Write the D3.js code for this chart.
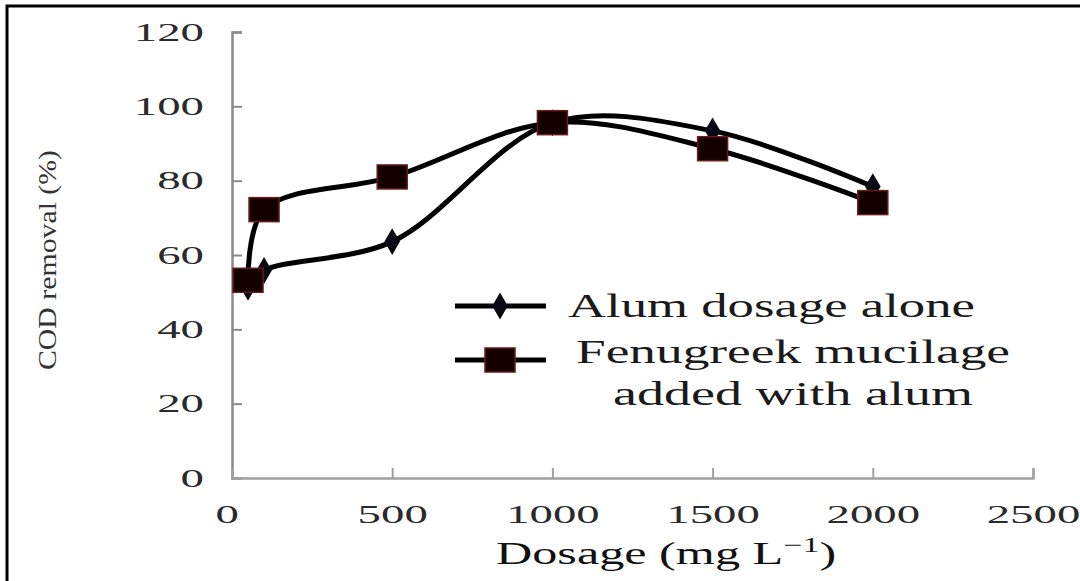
<!DOCTYPE html>
<html>
<head>
<meta charset="utf-8">
<script src="https://cdn.jsdelivr.net/npm/d3@7"></script>
<style>
body { margin: 0; background: #fff; }
svg { display: block; }
</style>
</head>
<body>
<script>
// data
var dosage = [50, 100, 500, 1000, 1500, 2000]
var alumAlone = [51.3, 55.8, 63.6, 95.6, 93.4, 78.4]
var fenugreek = [53.2, 72.2, 81.0, 95.6, 88.6, 74.1]
var xTicks = [0, 500, 1000, 1500, 2000, 2500]
var yTicks = [0, 20, 40, 60, 80, 100, 120]

var W = 1080, H = 581
var stretch = 1.8 // the source picture was widened, text looks wide

var svg = d3.select("body").append("svg")
	.attr("width", W)
	.attr("height", H)

// frame
svg.append("rect")
	.attr("x", 7).attr("y", 6)
	.attr("width", 1200).attr("height", 700)
	.attr("fill", "none")
	.attr("stroke", "#000")
	.attr("stroke-width", 3)

var x = d3.scaleLinear().domain([0, 2500]).range([232, 1033])
var y = d3.scaleLinear().domain([0, 120]).range([478, 32])

var font = "'Liberation Serif', 'DejaVu Serif', serif"

// y axis
var gy = svg.append("g")
	.attr("transform", "translate(" + x(0) + ",0)")
	.call(d3.axisRight(y).tickValues(yTicks).tickSize(10).tickFormat(d3.format("d")))
gy.select(".domain").attr("stroke", "#8a8a8a").attr("stroke-width", 2.5)
gy.selectAll(".tick line").attr("stroke", "#8a8a8a").attr("stroke-width", 2)
gy.selectAll(".tick text")
	.attr("x", -28 / stretch)
	.attr("dy", null)
	.attr("y", 8)
	.attr("transform", "scale(" + stretch + ",1)")
	.attr("text-anchor", "end")
	.attr("font-family", font)
	.attr("font-size", 26)
	.attr("fill", "#2a2a2a")

// x axis
var gx = svg.append("g")
	.attr("transform", "translate(0," + y(0) + ")")
	.call(d3.axisTop(x).tickValues(xTicks).tickSize(10).tickFormat(d3.format("d")))
gx.select(".domain").attr("stroke", "#a0a0a0").attr("stroke-width", 2.5)
gx.selectAll(".tick line").attr("stroke", "#a0a0a0").attr("stroke-width", 2)
gx.selectAll(".tick text")
	.attr("dy", null)
	.attr("y", 45)
	.attr("transform", "scale(" + stretch + ",1)")
	.attr("text-anchor", "middle")
	.attr("font-family", font)
	.attr("font-size", 26)
	.attr("fill", "#2a2a2a")
gx.selectAll(".tick").filter(function(d) { return d === 0 }).select("text").attr("x", -3)

// axis titles
svg.append("text")
	.attr("transform", "translate(56,260) rotate(-90)")
	.attr("text-anchor", "middle")
	.attr("font-family", font)
	.attr("font-size", 25)
	.attr("fill", "#333")
	.attr("textLength", 220)
	.attr("lengthAdjust", "spacingAndGlyphs")
	.text("COD removal (%)")

var xt = svg.append("text")
	.attr("transform", "translate(496,564) scale(1.62,1)")
	.attr("font-family", font)
	.attr("font-size", 31)
	.attr("fill", "#111")
xt.append("tspan").text("Dosage (mg L")
xt.append("tspan").attr("dy", -12).attr("font-size", 21).text("\u22121")
xt.append("tspan").attr("dy", 12).text(")")

// lines
var line = d3.line()
	.x(function(d, i) { return x(dosage[i]) })
	.y(function(d) { return y(d) })
	.curve(d3.curveCatmullRom.alpha(0.5))

svg.append("path").datum(alumAlone)
	.attr("d", line)
	.attr("fill", "none").attr("stroke", "#000").attr("stroke-width", 5)
svg.append("path").datum(fenugreek)
	.attr("d", line)
	.attr("fill", "none").attr("stroke", "#000").attr("stroke-width", 5)

var diamond = d3.symbol().type(d3.symbolDiamond).size(210)

svg.selectAll(".dia").data(alumAlone).enter().append("path")
	.attr("class", "dia")
	.attr("transform", function(d, i) { return "translate(" + x(dosage[i]) + "," + y(d) + ")" })
	.attr("d", diamond)
	.attr("fill", "#0a0a14")

svg.selectAll(".sq").data(fenugreek).enter().append("rect")
	.attr("class", "sq")
	.attr("x", function(d, i) { return x(dosage[i]) - 15 })
	.attr("y", function(d) { return y(d) - 12 })
	.attr("width", 30).attr("height", 24)
	.attr("fill", "#140000")
	.attr("stroke", "#6a1a1a")
	.attr("stroke-width", 1.5)

// legend
var lg = svg.append("g")
lg.append("line").attr("x1", 455).attr("x2", 546).attr("y1", 306).attr("y2", 306)
	.attr("stroke", "#000").attr("stroke-width", 5)
lg.append("path").attr("transform", "translate(500,306)").attr("d", diamond).attr("fill", "#0a0a14")
lg.append("text").attr("x", 568).attr("y", 317)
	.attr("font-family", font).attr("font-size", 33).attr("fill", "#1a1a1a")
	.attr("textLength", 407).attr("lengthAdjust", "spacingAndGlyphs")
	.text("Alum dosage alone")

lg.append("line").attr("x1", 455).attr("x2", 546).attr("y1", 360).attr("y2", 360)
	.attr("stroke", "#000").attr("stroke-width", 5)
lg.append("rect").attr("x", 485).attr("y", 348).attr("width", 30).attr("height", 24)
	.attr("fill", "#140000").attr("stroke", "#6a1a1a").attr("stroke-width", 1.5)
lg.append("text").attr("x", 576).attr("y", 363)
	.attr("font-family", font).attr("font-size", 33).attr("fill", "#1a1a1a")
	.attr("textLength", 434).attr("lengthAdjust", "spacingAndGlyphs")
	.text("Fenugreek mucilage")
lg.append("text").attr("x", 613).attr("y", 405)
	.attr("font-family", font).attr("font-size", 33).attr("fill", "#1a1a1a")
	.attr("textLength", 360).attr("lengthAdjust", "spacingAndGlyphs")
	.text("added with alum")
</script>
</body>
</html>
